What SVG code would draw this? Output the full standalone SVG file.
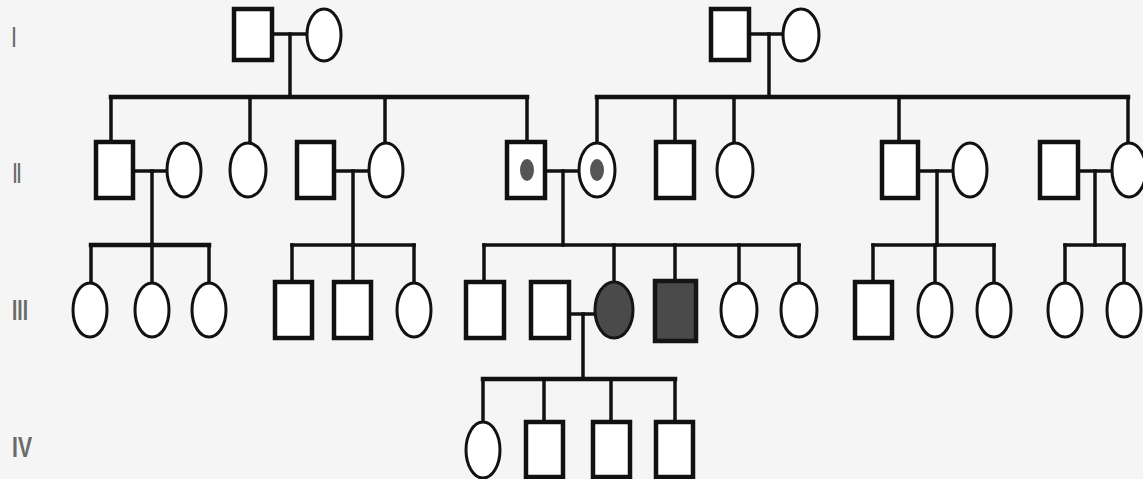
<svg xmlns="http://www.w3.org/2000/svg" width="1143" height="479" viewBox="0 0 1143 479">
<style>
.m{fill:#fff;stroke:#111;stroke-width:4.5}
.f{fill:#fff;stroke:#111;stroke-width:3}
.aff{fill:#4a4a4a;stroke:#151515}
.dot{fill:#555;stroke:none}
.c line{stroke:#111;stroke-width:3.5;stroke-linecap:square}
.c .s{stroke-width:4.5}
.lab{font-family:"Liberation Sans",Arial,sans-serif;font-size:30px;font-weight:bold;fill:#6a6a6a}
</style>
<rect width="1143" height="479" fill="#f5f5f5"/>
<g id="labels">
<text class="lab" x="12" y="47" textLength="4" lengthAdjust="spacingAndGlyphs">I</text>
<text class="lab" x="13" y="183" textLength="8" lengthAdjust="spacingAndGlyphs">II</text>
<text class="lab" x="12" y="320" textLength="16" lengthAdjust="spacingAndGlyphs">III</text>
<text class="lab" x="12" y="457" textLength="20" lengthAdjust="spacingAndGlyphs">IV</text>
</g>
<g id="connectors" class="c">
<line x1="272" y1="34" x2="307" y2="34"/>
<line x1="290" y1="34" x2="290" y2="97"/>
<line x1="749" y1="34" x2="783" y2="34"/>
<line x1="769" y1="34" x2="769" y2="97"/>
<line class="s" x1="111" y1="97" x2="527" y2="97"/>
<line class="s" x1="597" y1="97" x2="1128" y2="97"/>
<line x1="111" y1="97" x2="111" y2="142"/>
<line x1="250" y1="97" x2="250" y2="143"/>
<line x1="385" y1="97" x2="385" y2="143"/>
<line x1="527" y1="97" x2="527" y2="142"/>
<line x1="597" y1="97" x2="597" y2="143"/>
<line x1="675" y1="97" x2="675" y2="142"/>
<line x1="734" y1="97" x2="734" y2="143"/>
<line x1="899" y1="97" x2="899" y2="142"/>
<line x1="1128" y1="97" x2="1128" y2="143"/>
<line x1="133" y1="171" x2="167" y2="171"/>
<line x1="152" y1="171" x2="152" y2="245"/>
<line x1="334" y1="171" x2="369" y2="171"/>
<line x1="353" y1="171" x2="353" y2="245"/>
<line x1="545" y1="171" x2="579" y2="171"/>
<line x1="563" y1="171" x2="563" y2="245"/>
<line x1="918" y1="171" x2="953" y2="171"/>
<line x1="937" y1="171" x2="937" y2="245"/>
<line x1="1078" y1="171" x2="1112" y2="171"/>
<line x1="1095" y1="171" x2="1095" y2="245"/>
<line class="s" x1="91" y1="245" x2="209" y2="245"/>
<line x1="91" y1="245" x2="91" y2="283"/>
<line x1="152" y1="245" x2="152" y2="283"/>
<line x1="209" y1="245" x2="209" y2="283"/>
<line x1="292" y1="245" x2="414" y2="245"/>
<line x1="292" y1="245" x2="292" y2="282"/>
<line x1="353" y1="245" x2="353" y2="282"/>
<line x1="414" y1="245" x2="414" y2="283"/>
<line x1="484" y1="245" x2="799" y2="245"/>
<line x1="484" y1="245" x2="484" y2="282"/>
<line x1="614" y1="245" x2="614" y2="282"/>
<line x1="675" y1="245" x2="675" y2="281"/>
<line x1="739" y1="245" x2="739" y2="283"/>
<line x1="799" y1="245" x2="799" y2="283"/>
<line x1="873" y1="245" x2="994" y2="245"/>
<line x1="873" y1="245" x2="873" y2="282"/>
<line x1="935" y1="245" x2="935" y2="283"/>
<line x1="994" y1="245" x2="994" y2="283"/>
<line x1="1065" y1="245" x2="1124" y2="245"/>
<line x1="1065" y1="245" x2="1065" y2="283"/>
<line x1="1124" y1="245" x2="1124" y2="283"/>
<line x1="569" y1="314" x2="595" y2="314"/>
<line x1="583" y1="314" x2="583" y2="379"/>
<line class="s" x1="483" y1="379" x2="675" y2="379"/>
<line x1="483" y1="379" x2="483" y2="422"/>
<line x1="544" y1="379" x2="544" y2="422"/>
<line x1="611" y1="379" x2="611" y2="422"/>
<line x1="675" y1="379" x2="675" y2="422"/>
</g>
<g id="I-1"><rect class="m" x="234" y="9" width="38" height="51"/></g>
<g id="I-2"><ellipse class="f" cx="324" cy="35" rx="17" ry="26"/></g>
<g id="I-3"><rect class="m" x="711" y="9" width="38" height="51"/></g>
<g id="I-4"><ellipse class="f" cx="801" cy="35" rx="18" ry="26"/></g>
<g id="II-1"><rect class="m" x="96" y="142" width="37" height="56"/></g>
<g id="II-2"><ellipse class="f" cx="184" cy="170" rx="17" ry="27"/></g>
<g id="II-3"><ellipse class="f" cx="248" cy="170" rx="18" ry="27"/></g>
<g id="II-4"><rect class="m" x="297" y="142" width="37" height="56"/></g>
<g id="II-5"><ellipse class="f" cx="386" cy="170" rx="17" ry="27"/></g>
<g id="II-6"><rect class="m" x="507" y="142" width="38" height="56"/><ellipse class="dot" cx="527" cy="170" rx="7" ry="11"/></g>
<g id="II-7"><ellipse class="f" cx="597" cy="170" rx="18" ry="27"/><ellipse class="dot" cx="597" cy="170" rx="7" ry="11"/></g>
<g id="II-8"><rect class="m" x="656" y="142" width="38" height="56"/></g>
<g id="II-9"><ellipse class="f" cx="735" cy="170" rx="18" ry="27"/></g>
<g id="II-10"><rect class="m" x="882" y="142" width="36" height="56"/></g>
<g id="II-11"><ellipse class="f" cx="970" cy="170" rx="17" ry="27"/></g>
<g id="II-12"><rect class="m" x="1040" y="142" width="38" height="56"/></g>
<g id="II-13"><ellipse class="f" cx="1129" cy="170" rx="17" ry="27"/></g>
<g id="III-1"><ellipse class="f" cx="90" cy="310" rx="17" ry="27"/></g>
<g id="III-2"><ellipse class="f" cx="152" cy="310" rx="17" ry="27"/></g>
<g id="III-3"><ellipse class="f" cx="209" cy="310" rx="17" ry="27"/></g>
<g id="III-4"><rect class="m" x="275" y="282" width="37" height="56"/></g>
<g id="III-5"><rect class="m" x="334" y="282" width="37" height="56"/></g>
<g id="III-6"><ellipse class="f" cx="414" cy="310" rx="17" ry="27"/></g>
<g id="III-7"><rect class="m" x="466" y="282" width="38" height="56"/></g>
<g id="III-8"><rect class="m" x="531" y="282" width="38" height="56"/></g>
<g id="III-9"><ellipse class="f aff" cx="614" cy="310" rx="19" ry="28"/></g>
<g id="III-10"><rect class="m aff" x="655" y="281" width="41" height="60"/></g>
<g id="III-11"><ellipse class="f" cx="739" cy="310" rx="18" ry="27"/></g>
<g id="III-12"><ellipse class="f" cx="799" cy="310" rx="18" ry="27"/></g>
<g id="III-13"><rect class="m" x="855" y="282" width="37" height="56"/></g>
<g id="III-14"><ellipse class="f" cx="935" cy="310" rx="17" ry="27"/></g>
<g id="III-15"><ellipse class="f" cx="994" cy="310" rx="17" ry="27"/></g>
<g id="III-16"><ellipse class="f" cx="1065" cy="310" rx="17" ry="27"/></g>
<g id="III-17"><ellipse class="f" cx="1124" cy="310" rx="17" ry="27"/></g>
<g id="IV-1"><ellipse class="f" cx="483" cy="450" rx="17" ry="28"/></g>
<g id="IV-2"><rect class="m" x="526" y="422" width="37" height="55"/></g>
<g id="IV-3"><rect class="m" x="593" y="422" width="37" height="55"/></g>
<g id="IV-4"><rect class="m" x="656" y="422" width="37" height="55"/></g>
</svg>
